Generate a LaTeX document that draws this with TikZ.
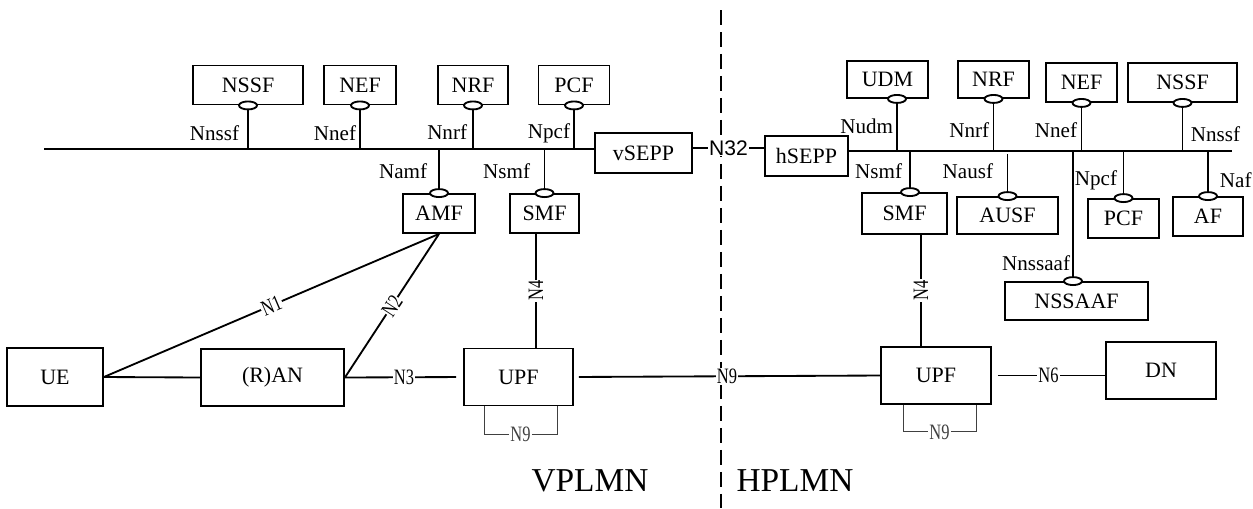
\documentclass[tikz,border=0pt]{standalone}
\usepackage{fontspec}
\setmainfont{Liberation Serif}
\newfontfamily\narrowfont[FakeStretch=0.75]{Liberation Serif}
\newfontfamily\arialfont{Liberation Sans}
\usepackage{tikz}

\begin{document}
\begin{tikzpicture}[x=0.02cm, y=-0.02cm, line width=1.05pt,
        nf/.style={draw, minimum width=#1, minimum height=0.78cm, inner sep=0pt, font=\fontsize{12.5}{14}\selectfont},
        lbl/.style={inner sep=0pt, font=\fontsize{12}{14}\selectfont},
        ifl/.style={fill=white, inner sep=0.6pt, font=\narrowfont\fontsize{12.5}{14}\selectfont},
        plug/.style={fill=white, draw},
        loop/.style={line width=0.55pt, black!75}]
        \useasboundingbox (0,0) rectangle (1253,508);

        \coordinate (divT) at (721,10);
        \coordinate (divB) at (721,508);
        \coordinate (busL) at (44,149);
        \coordinate (busR) at (1232,151);
        \coordinate (n32) at (728,148);

        \draw [dash pattern=on 0.3cm off 0.14cm] (divT) -- (divB);

        \node [nf=2.2cm] (NSSFv) at (248,85) {NSSF};
        \node [nf=1.44cm] (NEFv) at (360,85) {NEF};
        \node [nf=1.4cm] (NRFv) at (473,85) {NRF};
        \node [nf=1.42cm] (PCFv) at (574,85) {PCF};
        \node [nf=1.94cm, minimum height=0.8cm] (vSEPP) at (643.5,153) {vSEPP};
        \node [nf=1.44cm] (AMF) at (439,213.5) {AMF};
        \node [nf=1.38cm] (SMFv) at (544.5,213.5) {SMF};

        \node [nf=1.66cm, minimum height=0.8cm] (hSEPP) at (806.5,156) {hSEPP};
        \node [nf=1.62cm, minimum height=0.74cm] (UDM) at (887.5,79.5) {UDM};
        \node [nf=1.42cm, minimum height=0.74cm] (NRFh) at (993.5,79.5) {NRF};
        \node [nf=1.42cm] (NEFh) at (1081.5,82.5) {NEF};
        \node [nf=2.18cm] (NSSFh) at (1182.5,82.5) {NSSF};
        \node [nf=1.7cm, minimum height=0.82cm] (SMFh) at (904.5,213.5) {SMF};
        \node [nf=2.02cm, minimum height=0.74cm] (AUSF) at (1007.5,215.5) {AUSF};
        \node [nf=1.42cm] (PCFh) at (1123.5,218.5) {PCF};
        \node [nf=1.4cm] (AF) at (1208,216.5) {AF};
        \node [nf=2.86cm, minimum height=0.76cm] (NSSAAF) at (1076.5,301) {NSSAAF};

        \node [nf=1.92cm, minimum height=1.16cm] (UE) at (55,377) {UE};
        \node [nf=2.86cm, minimum height=1.14cm] (RAN) at (272.5,377.5) {(R)AN};
        \node [nf=2.18cm, minimum height=1.14cm] (UPFv) at (518.5,377) {UPF};
        \node [nf=2.2cm, minimum height=1.14cm] (UPFh) at (936,375.5) {UPF};
        \node [nf=2.2cm, minimum height=1.14cm] (DN) at (1161,370.5) {DN};

        \draw (busL) -- (busL -| vSEPP.west);
        \draw (hSEPP.east |- busR) -- (busR);
        \draw (vSEPP.east |- n32) -- node [fill=white, inner sep=0.5pt, font=\arialfont\fontsize{12}{14}\selectfont] {N32} (hSEPP.west |- n32);

        \draw (NSSFv.south) -- (NSSFv.south |- busL);
        \draw (NEFv.south) -- (NEFv.south |- busL);
        \draw (NRFv.south) -- (NRFv.south |- busL);
        \draw (PCFv.south) -- (PCFv.south |- busL);
        \draw (AMF.north) -- (AMF.north |- busL);
        \draw (SMFv.north) -- (SMFv.north |- busL);
        \draw [plug] (NSSFv.south) ellipse (0.18cm and 0.08cm);
        \draw [plug] (NEFv.south) ellipse (0.18cm and 0.08cm);
        \draw [plug] (NRFv.south) ellipse (0.18cm and 0.08cm);
        \draw [plug] (PCFv.south) ellipse (0.18cm and 0.08cm);
        \draw [plug] (AMF.north) ellipse (0.18cm and 0.08cm);
        \draw [plug] (SMFv.north) ellipse (0.18cm and 0.08cm);

        \draw ([xshift=0.19cm]UDM.south) -- ([xshift=0.19cm]UDM.south |- busR);
        \draw (NRFh.south) -- (NRFh.south |- busR);
        \draw (NEFh.south) -- (NEFh.south |- busR);
        \draw (NSSFh.south) -- (NSSFh.south |- busR);
        \draw ([xshift=0.11cm]SMFh.north) -- ([xshift=0.11cm]SMFh.north |- busR);
        \draw (AUSF.north) -- ([yshift=-0.06cm]AUSF.north |- busR);
        \draw (PCFh.north) -- (PCFh.north |- busR);
        \draw (AF.north) -- (AF.north |- busR);
        \draw ([xshift=-0.07cm]NSSAAF.north) -- ([xshift=-0.07cm]NSSAAF.north |- busR);
        \draw [plug] ([xshift=0.19cm]UDM.south) ellipse (0.18cm and 0.08cm);
        \draw [plug] (NRFh.south) ellipse (0.18cm and 0.08cm);
        \draw [plug] (NEFh.south) ellipse (0.18cm and 0.08cm);
        \draw [plug] (NSSFh.south) ellipse (0.18cm and 0.08cm);
        \draw [plug] ([xshift=0.11cm]SMFh.north) ellipse (0.18cm and 0.08cm);
        \draw [plug] (AUSF.north) ellipse (0.18cm and 0.08cm);
        \draw [plug] (PCFh.north) ellipse (0.18cm and 0.08cm);
        \draw [plug] (AF.north) ellipse (0.18cm and 0.08cm);
        \draw [plug] ([xshift=-0.07cm]NSSAAF.north) ellipse (0.18cm and 0.08cm);

        \node [lbl, anchor=base east] (lNssfv) at (240,140) {Nnssf};
        \node [lbl, anchor=base east] (lNefv) at (357,140) {Nnef};
        \node [lbl, anchor=base east] (lNrfv) at (468,139) {Nnrf};
        \node [lbl, anchor=base east] (lPcfv) at (571,138) {Npcf};
        \node [lbl, anchor=base east] (lAmf) at (428,178) {Namf};
        \node [lbl, anchor=base east] (lSmfv) at (531,178) {Nsmf};
        \node [lbl, anchor=base east] (lUdm) at (894,133) {Nudm};
        \node [lbl, anchor=base east] (lNrfh) at (990,137) {Nnrf};
        \node [lbl, anchor=base east] (lNefh) at (1078,137) {Nnef};
        \node [lbl, anchor=base west] (lNssfh) at (1190,141) {Nnssf};
        \node [lbl, anchor=base east] (lSmfh) at (903,178) {Nsmf};
        \node [lbl, anchor=base east] (lAusf) at (994,178) {Nausf};
        \node [lbl, anchor=base east] (lPcfh) at (1118,185) {Npcf};
        \node [lbl, anchor=base west] (lAf) at (1219,187) {Naf};
        \node [lbl, anchor=base east] (lNssaaf) at (1071,270) {Nnssaaf};

        \draw (UE.east) -- (RAN.west);
        \draw (UE.east) -- node [ifl, sloped] {N1} (AMF.south);
        \draw (RAN.east) -- node [ifl, sloped, inner sep=0pt] {N2} (AMF.south);
        \draw [shorten >=0.14cm] (RAN.east) -- node [ifl] {N3} (UPFv.west);
        \draw ([xshift=-0.17cm]SMFv.south) -- node [ifl, rotate=90] {N4} ([xshift=-0.17cm]SMFv.south |- UPFv.north);
        \draw ([xshift=0.33cm]SMFh.south) -- node [ifl, rotate=90] {N4} ([xshift=0.33cm]SMFh.south |- UPFh.north);
        \draw [shorten <=0.1cm] (UPFv.east) -- node [ifl] {N9} (UPFh.west);
        \draw [shorten <=0.12cm] (UPFh.east) -- node [ifl] {N6} (UPFh.east -| DN.west);
        \draw [loop] ([xshift=-0.69cm]UPFv.south) -- ++(0,28) -| node [ifl, pos=0.25] {N9} ([xshift=0.77cm]UPFv.south);
        \draw [loop] ([xshift=-0.66cm]UPFh.south) -- ++(0,27) -| node [ifl, pos=0.25] {N9} ([xshift=0.8cm]UPFh.south);

        \node [font=\fontsize{19}{22}\selectfont] (vplmn) at (590,481) {VPLMN};
        \node [font=\fontsize{19}{22}\selectfont] (hplmn) at (795,481) {HPLMN};
    \end{tikzpicture}
\end{document}
